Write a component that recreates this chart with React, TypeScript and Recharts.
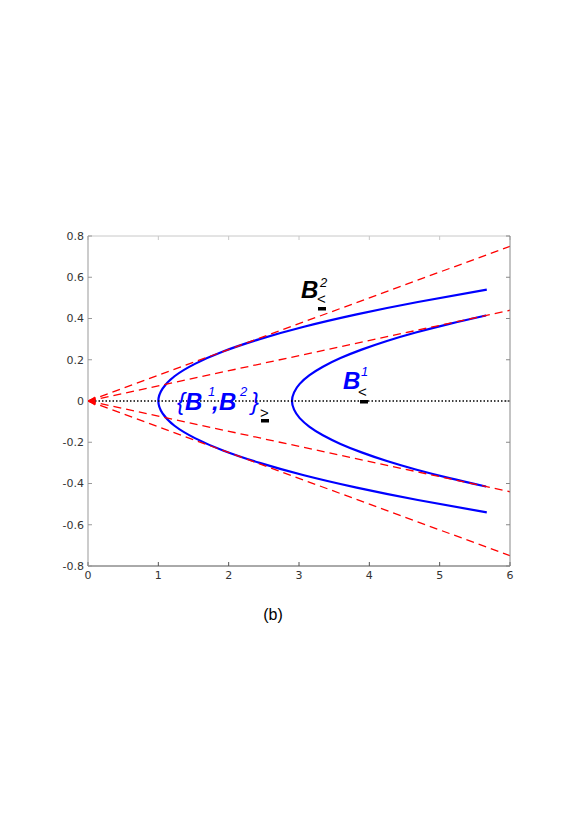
import { ComposedChart, Line, XAxis, YAxis, Scatter } from "recharts";

// ---------- axis ticks ----------
const xTicks = [0, 1, 2, 3, 4, 5, 6];
const yTicks = [-0.8, -0.6, -0.4, -0.2, 0, 0.2, 0.4, 0.6, 0.8];

// ---------- outer branch (vertex near x = 1) ----------
const outerX = [5.67, 4.69, 3.82, 3.07, 2.44, 1.92, 1.52, 1.23, 1.06, 1.0, 1.06, 1.23, 1.52, 1.92, 2.44, 3.07, 3.82, 4.69, 5.67];
const outerY = [0.54, 0.48, 0.42, 0.36, 0.3, 0.24, 0.18, 0.12, 0.06, 0, -0.06, -0.12, -0.18, -0.24, -0.3, -0.36, -0.42, -0.48, -0.54];

// ---------- inner branch (vertex near x = 2.9) ----------
const innerX = [5.66, 5.14, 4.66, 4.25, 3.89, 3.59, 3.34, 3.15, 3.01, 2.93, 2.9, 2.93, 3.01, 3.15, 3.34, 3.59, 3.89, 4.25, 4.66, 5.14, 5.66];
const innerY = [0.415, 0.374, 0.332, 0.291, 0.249, 0.208, 0.166, 0.125, 0.083, 0.042, 0, -0.042, -0.083, -0.125, -0.166, -0.208, -0.249, -0.291, -0.332, -0.374, -0.415];

// ---------- rays from the origin (end points at x = 6) ----------
const rayEndX = [6, 6, 6, 6];
const rayEndY = [0.75, 0.44, -0.44, -0.75];

// ---------- horizontal dotted axis ----------
const zeroLineX = [0, 6];
const zeroLineY = [0, 0];

const zip = (xs: number[], ys: number[]) => xs.map((x, i) => ({ x, y: ys[i] }));

const outerData = zip(outerX, outerY);
const innerData = zip(innerX, innerY);
const rays = rayEndX.map((x, i) => [
  { x: 0, y: 0 },
  { x, y: rayEndY[i] },
]);
const zeroData = zip(zeroLineX, zeroLineY);
const originData = [{ x: 0, y: 0 }];

const BLUE = "#0000ff";
const RED = "#ff0000";
const FONT = "'Liberation Sans', Arial, sans-serif";
const tickStyle = { fontSize: 11, fill: "#333", fontFamily: "'DejaVu Sans', sans-serif" };

const fmtY = (v: number) => (v === 0 ? "0" : v.toFixed(1));

// left-pointing triangle marker
const Triangle = (props: any) => {
  const { cx, cy } = props;
  return (
    <polygon
      points={`${cx},${cy} ${cx + 7},${cy - 4} ${cx + 7},${cy + 4}`}
      fill={RED}
      stroke={RED}
      strokeWidth={1}
    />
  );
};

export default function App() {
  return (
    <div style={{ position: "relative", width: 562, height: 620 }}>
      <ComposedChart
        width={562}
        height={620}
        margin={{ top: 227, right: 59, bottom: 32, left: 0 }}
      >
        <XAxis
          dataKey="x"
          type="number"
          domain={[0, 6]}
          ticks={xTicks}
          height={30}
          tickSize={-4}
          tickMargin={9}
          tick={tickStyle}
          stroke="#555"
          allowDataOverflow
        />
        <XAxis
          xAxisId="top"
          dataKey="x"
          orientation="top"
          type="number"
          domain={[0, 6]}
          ticks={xTicks}
          height={1}
          tickSize={-4}
          tickFormatter={() => ""}
          stroke="#c8c8c8"
          allowDataOverflow
        />
        <YAxis
          dataKey="y"
          type="number"
          domain={[-0.8, 0.8]}
          ticks={yTicks}
          width={80}
          tickSize={-4}
          tickMargin={8}
          tick={tickStyle}
          tickFormatter={fmtY}
          stroke="#999"
          allowDataOverflow
        />
        <YAxis
          yAxisId="right"
          dataKey="y"
          orientation="right"
          type="number"
          domain={[-0.8, 0.8]}
          ticks={yTicks}
          width={1}
          tickSize={-4}
          tickFormatter={() => ""}
          stroke="#888"
          allowDataOverflow
        />

        {/* invisible series so the top / right box axes are drawn */}
        <Line data={zeroData} xAxisId="top" yAxisId="right" dataKey="y" stroke="none" dot={false} activeDot={false} isAnimationActive={false} />

        {/* hyperbola-like branches */}
        <Line data={outerData} dataKey="y" type="natural" stroke={BLUE} strokeWidth={2.2} dot={false} activeDot={false} isAnimationActive={false} />
        <Line data={innerData} dataKey="y" type="natural" stroke={BLUE} strokeWidth={2.2} dot={false} activeDot={false} isAnimationActive={false} />

        {/* dashed rays */}
        {rays.map((r, i) => (
          <Line
            key={i}
            data={r}
            dataKey="y"
            type="linear"
            stroke={RED}
            strokeWidth={1.3}
            strokeDasharray="8 5"
            dot={false}
            activeDot={false}
            isAnimationActive={false}
          />
        ))}

        {/* dotted zero line */}
        <Line data={zeroData} dataKey="y" type="linear" stroke="#000" strokeWidth={1.6} strokeDasharray="1.5 2" dot={false} activeDot={false} isAnimationActive={false} />

        <Scatter data={originData} dataKey="y" shape={Triangle} isAnimationActive={false} />
      </ComposedChart>

      {/* annotations, page coordinates */}
      <svg
        width={578}
        height={817}
        style={{ position: "absolute", left: -8, top: -8, pointerEvents: "none" }}
      >
        <g fontFamily={FONT}>
          {/* B^2 < */}
          <text x={301} y={298} fontSize={24} fontWeight="bold" fontStyle="italic" fill="#000">B</text>
          <text x={320} y={287} fontSize={13} fontStyle="italic" fill="#000">2</text>
          <text x={317} y={304} fontSize={15} fill="#000">&lt;</text>
          <rect x={318} y={307} width={8} height={3.5} fill="#000" />

          {/* {B^1,B^2} >= */}
          <text x={177} y={410} fontSize={24} fontStyle="italic" fill={BLUE}>{"{"}</text>
          <text x={185} y={410} fontSize={24} fontWeight="bold" fontStyle="italic" fill={BLUE}>B</text>
          <text x={208} y={396} fontSize={13} fontStyle="italic" fill={BLUE}>1</text>
          <text x={212} y={410} fontSize={24} fontWeight="bold" fontStyle="italic" fill={BLUE}>,</text>
          <text x={219} y={410} fontSize={24} fontWeight="bold" fontStyle="italic" fill={BLUE}>B</text>
          <text x={240} y={396} fontSize={13} fontStyle="italic" fill={BLUE}>2</text>
          <text x={251} y={410} fontSize={24} fontStyle="italic" fill={BLUE}>{"}"}</text>
          <text x={260} y={418} fontSize={15} fill="#000">&gt;</text>
          <rect x={261} y={419} width={8} height={3.5} fill="#000" />

          {/* B^1 < */}
          <text x={343} y={389} fontSize={24} fontWeight="bold" fontStyle="italic" fill={BLUE}>B</text>
          <text x={361} y={376} fontSize={13} fontStyle="italic" fill={BLUE}>1</text>
          <text x={358} y={397} fontSize={15} fill="#000">&lt;</text>
          <rect x={360} y={400} width={8} height={3.5} fill="#000" />

          {/* panel caption */}
          <text x={273} y={620} fontSize={16} textAnchor="middle" fill="#000">(b)</text>
        </g>
      </svg>
    </div>
  );
}
